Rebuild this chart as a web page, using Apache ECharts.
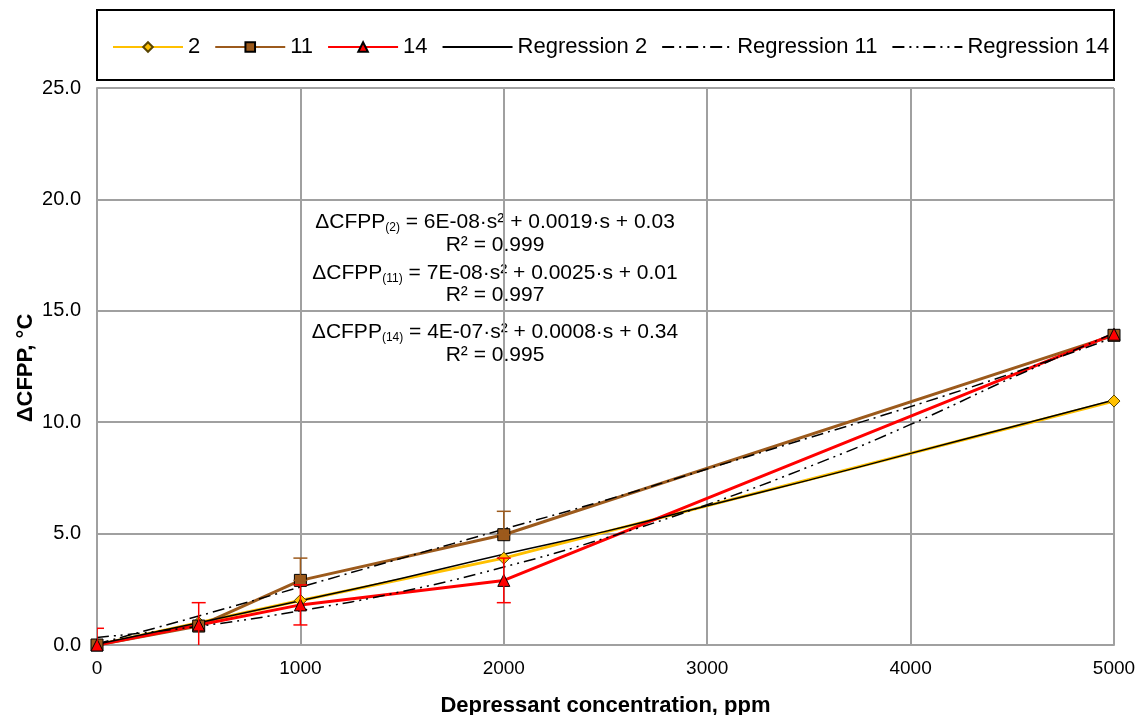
<!DOCTYPE html>
<html>
<head>
<meta charset="utf-8">
<script src="https://cdn.jsdelivr.net/npm/echarts@6/dist/echarts.min.js"></script>
<style>
  html, body { margin: 0; padding: 0; background: #fff; }
  #chart { width: 1142px; height: 715px; }
</style>
</head>
<body>
<div id="chart"></div>
<script>
// measured points, ppm vs delta CFPP
const conc = [0, 500, 1000, 2000, 5000]
const fuel2 = [0, 1.0, 2.0, 3.9, 10.95]
const fuel11 = [0, 0.85, 2.9, 4.95, 13.9]
const fuel14 = [0, 0.9, 1.8, 2.9, 13.95]

// error bars: [x, low, high]
const err11 = [[1000, 2.9, 3.9], [2000, 4.95, 6.0]]
const err14 = [[0, -0.75, 0.75], [500, -0.1, 1.9], [1000, 0.9, 2.7], [2000, 1.9, 3.9]]

// regression curves
const regX = [0, 500, 1000, 1500, 2000, 2500, 3000, 3500, 4000, 4500, 5000]
const reg2 = [0.03, 1.0, 1.99, 3.0, 4.07, 5.1, 6.25, 7.4, 8.6, 9.8, 11.0]
const reg11 = [0.05, 1.3, 2.6, 3.9, 5.2, 6.5, 7.9, 9.3, 10.7, 12.2, 13.8]
const reg14 = [0.34, 0.84, 1.54, 2.4, 3.5, 4.8, 6.3, 8.0, 9.9, 12.0, 14.0]

const xTicks = [0, 1000, 2000, 3000, 4000, 5000]
const yTicks = [0, 5, 10, 15, 20, 25]

const equations = [
  ['ΔCFPP', '(2)', ' = 6E-08·s² + 0.0019·s + 0.03'],
  ['R² = 0.999'],
  ['ΔCFPP', '(11)', ' = 7E-08·s² + 0.0025·s + 0.01'],
  ['R² = 0.997'],
  ['ΔCFPP', '(14)', ' = 4E-07·s² + 0.0008·s + 0.34'],
  ['R² = 0.995'],
]
const eqY = [222, 245, 273, 295, 332, 355]

const FONT = 'Liberation Sans, Arial, sans-serif'
const pairs = (xs, ys) => xs.map((x, i) => [x, ys[i]])

function errSeries(data, color) {
  return {
    type: 'custom',
    data: data,
    clip: true,
    z: 4,
    silent: true,
    renderItem: (params, api) => {
      const x = api.value(0)
      const lo = api.coord([x, api.value(1)])
      const hi = api.coord([x, api.value(2)])
      const w = 7
      const style = { stroke: color, lineWidth: 1.5 }
      return {
        type: 'group',
        children: [
          { type: 'line', shape: { x1: lo[0], y1: lo[1], x2: hi[0], y2: hi[1] }, style },
          { type: 'line', shape: { x1: hi[0] - w, y1: hi[1], x2: hi[0] + w, y2: hi[1] }, style },
          { type: 'line', shape: { x1: lo[0] - w, y1: lo[1], x2: lo[0] + w, y2: lo[1] }, style },
        ],
      }
    },
  }
}

const graphics = [
  {
    type: 'rect',
    shape: { x: 97, y: 10, width: 1017, height: 70 },
    style: { fill: 'none', stroke: '#000', lineWidth: 2 },
    silent: true,
  },
  {
    type: 'text',
    x: 26,
    y: 368,
    rotation: Math.PI / 2,
    style: {
      text: 'ΔCFPP, °C',
      font: 'bold 22px ' + FONT,
      fill: '#000',
      align: 'center',
      verticalAlign: 'middle',
    },
  },
]
equations.forEach((parts, i) => {
  const text = parts.length === 1
    ? '{m|' + parts[0] + '}'
    : '{m|' + parts[0] + '}{s|' + parts[1] + '}{m|' + parts[2] + '}'
  graphics.push({
    type: 'text',
    x: 495,
    y: eqY[i],
    style: {
      text: text,
      align: 'center',
      verticalAlign: 'middle',
      rich: {
        m: { fontSize: 21, fontFamily: FONT, fill: '#000', lineHeight: 24, verticalAlign: 'middle' },
        s: { fontSize: 12, fontFamily: FONT, fill: '#000', lineHeight: 24, verticalAlign: 'bottom' },
      },
    },
  })
})

// hide the marker dot on the regression legend icons
const legendItems = ['2', '11', '14', 'Regression 2', 'Regression 11', 'Regression 14'].map((name) =>
  name.startsWith('Regression') ? { name, itemStyle: { opacity: 0 } } : { name }
)

const chart = echarts.init(document.getElementById('chart'))
chart.setOption({
  animation: false,
  backgroundColor: '#fff',
  textStyle: { fontFamily: FONT },
  grid: { left: 97, right: 28, top: 88, bottom: 70, outerBoundsMode: 'none', containLabel: false },
  legend: {
    left: 107,
    top: 31,
    itemWidth: 70,
    itemHeight: 12,
    itemGap: 14,
    textStyle: { fontSize: 22, color: '#000', fontFamily: FONT },
    data: legendItems,
  },
  xAxis: {
    type: 'value',
    min: xTicks[0],
    max: xTicks[xTicks.length - 1],
    interval: 1000,
    name: 'Depressant concentration, ppm',
    nameLocation: 'middle',
    nameGap: 50,
    nameTextStyle: { fontSize: 22, fontWeight: 'bold', color: '#000' },
    axisLine: { lineStyle: { color: '#a0a0a0', width: 2 } },
    axisTick: { show: false },
    axisLabel: { fontSize: 19, color: '#000', margin: 14, formatter: (v) => String(v) },
    splitLine: { lineStyle: { color: '#a0a0a0', width: 2 } },
  },
  yAxis: {
    type: 'value',
    min: yTicks[0],
    max: yTicks[yTicks.length - 1],
    interval: 5,
    axisLine: { show: true, lineStyle: { color: '#a0a0a0', width: 2 } },
    axisTick: { show: false },
    axisLabel: { fontSize: 20, color: '#000', margin: 16, formatter: (v) => v.toFixed(1) },
    splitLine: { lineStyle: { color: '#a0a0a0', width: 2 } },
  },
  graphic: graphics,
  series: [
    {
      name: '2',
      type: 'line',
      data: pairs(conc, fuel2),
      symbol: 'diamond',
      symbolSize: 12,
      lineStyle: { color: '#ffc000', width: 3 },
      itemStyle: { color: '#ffc000', borderColor: '#5a4500', borderWidth: 1 },
    },
    {
      name: '11',
      type: 'line',
      data: pairs(conc, fuel11),
      symbol: 'rect',
      symbolSize: 12,
      lineStyle: { color: '#9c5a1c', width: 3 },
      itemStyle: { color: '#9c5a1c', borderColor: '#000', borderWidth: 1 },
    },
    {
      name: '14',
      type: 'line',
      data: pairs(conc, fuel14),
      symbol: 'triangle',
      symbolSize: 12,
      lineStyle: { color: '#ff0000', width: 3 },
      itemStyle: { color: '#ff0000', borderColor: '#000', borderWidth: 1 },
    },
    {
      name: 'Regression 2',
      type: 'line',
      data: pairs(regX, reg2),
      smooth: true,
      showSymbol: false,
      symbol: 'none',
      lineStyle: { color: '#000', width: 1.5 },
      itemStyle: { color: '#000' },
    },
    {
      name: 'Regression 11',
      type: 'line',
      data: pairs(regX, reg11),
      smooth: true,
      showSymbol: false,
      symbol: 'none',
      lineStyle: { color: '#000', width: 1.5, type: [12, 5, 2, 5] },
      itemStyle: { color: '#000' },
    },
    {
      name: 'Regression 14',
      type: 'line',
      data: pairs(regX, reg14),
      smooth: true,
      showSymbol: false,
      symbol: 'none',
      lineStyle: { color: '#000', width: 1.5, type: [12, 5, 2, 5, 2, 5] },
      itemStyle: { color: '#000' },
    },
    errSeries(err11, '#9c5a1c'),
    errSeries(err14, '#ff0000'),
  ],
})
window.addEventListener('resize', () => chart.resize())
</script>
</body>
</html>
